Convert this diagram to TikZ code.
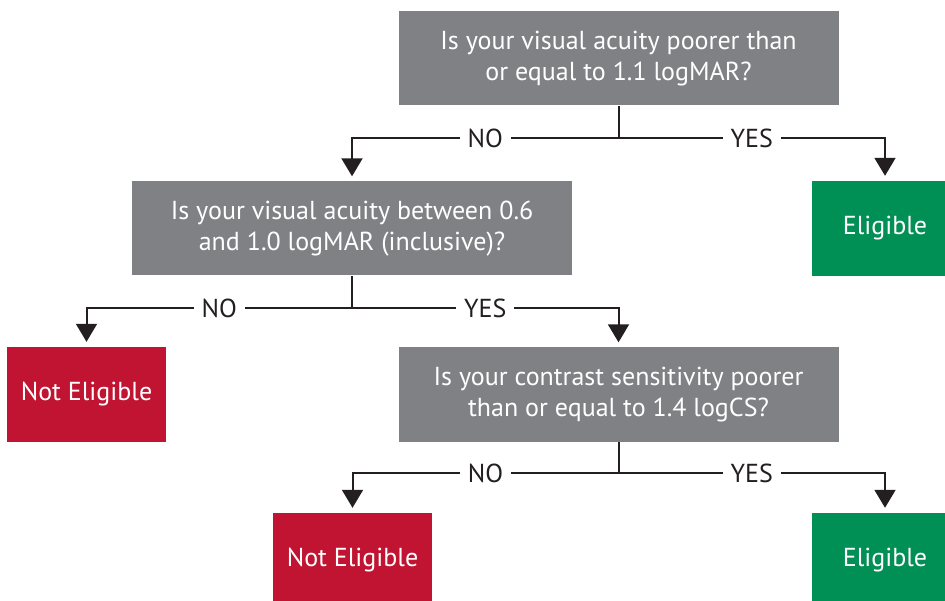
\documentclass[tikz,border=0pt]{standalone}
\usepackage{fontspec}
\setmainfont{PT Sans}
\usetikzlibrary{arrows.meta}
\definecolor{qgray}{RGB}{128,129,133}
\definecolor{okgreen}{RGB}{0,143,84}
\definecolor{nored}{RGB}{192,20,50}
\definecolor{ink}{RGB}{35,31,32}
\tikzset{
  question/.style={rectangle, fill=qgray, text=white, align=center, minimum width=440pt, minimum height=94pt, inner sep=0pt, font=\fontsize{26}{31}\selectfont},
  yesbox/.style={rectangle, fill=okgreen, text=white, minimum width=146pt, minimum height=95pt, inner sep=0pt, font=\fontsize{26}{31}\selectfont},
  nobox/.style={rectangle, fill=nored, text=white, minimum width=159pt, minimum height=95pt, inner sep=0pt, font=\fontsize{26}{31}\selectfont},
  link/.style={draw=ink, line width=2pt},
  arr/.style={link, -{Triangle[width=21pt,length=18pt]}, shorten >=5pt},
  lab/.style={fill=white, text=ink, inner xsep=8pt, inner ysep=2pt, font=\fontsize{26}{28}\selectfont, pos=0.25}
}
\begin{document}
\begin{tikzpicture}[x=1pt,y=-1pt]
\useasboundingbox (0,0) rectangle (945,601);
\clip (0,0) rectangle (945,601);
\node[question] (q1) at (618.5,58.5) {Is your visual acuity poorer than\\or equal to 1.1 logMAR?};
\node[question] (q2) at (352,228.5) {Is your visual acuity between 0.6\\and 1.0 logMAR (inclusive)?};
\node[yesbox] (e1) at (885,228.5) {Eligible};
\node[nobox] (n1) at (86.5,394.5) {Not Eligible};
\node[question] (q3) at (618.5,394.5) {Is your contrast sensitivity poorer\\than or equal to 1.4 logCS?};
\node[nobox] (n2) at (352.5,560.5) {Not Eligible};
\node[yesbox] (e2) at (885,560.5) {Eligible};

\coordinate (j1) at (q1.south |- 0,138);
\coordinate (j2) at (q2.south |- 0,308);
\coordinate (j3) at (q3.south |- 0,473);

\draw[link] (q1.south) -- (j1);
\draw[arr] (j1) -| node[lab] {NO} (q2.north);
\draw[arr] (j1) -| node[lab] {YES} (e1.north);

\draw[link] (q2.south) -- (j2);
\draw[arr] (j2) -| node[lab] {NO} (n1.north);
\draw[arr] (j2) -| node[lab] {YES} (q3.north);

\draw[link] (q3.south) -- (j3);
\draw[arr] (j3) -| node[lab] {NO} (n2.north);
\draw[arr] (j3) -| node[lab] {YES} (e2.north);
\end{tikzpicture}
\end{document}
